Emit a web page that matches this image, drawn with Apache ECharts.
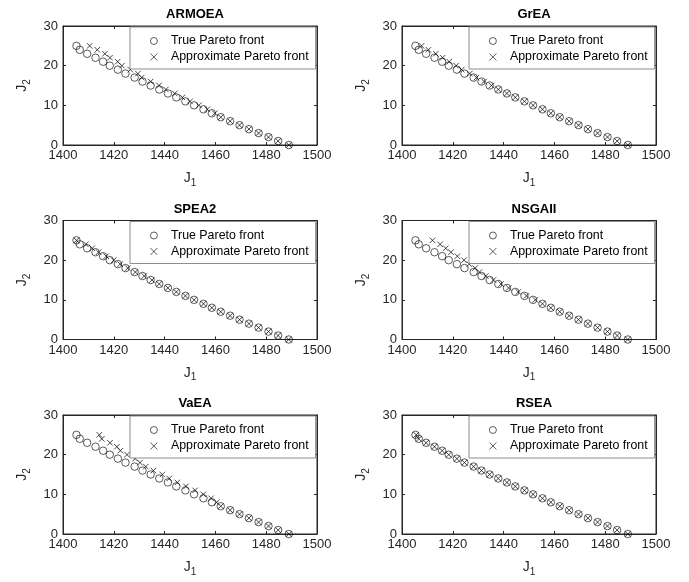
<!DOCTYPE html>
<html><head><meta charset="utf-8">
<script src="https://cdn.jsdelivr.net/npm/echarts@6/dist/echarts.min.js"></script>
<style>html,body{margin:0;padding:0;background:#fff}#c{width:689px;height:582px}</style>
</head><body><div id="c"></div>
<script>
// ---- data ----
const titles = ['ARMOEA', 'GrEA', 'SPEA2', 'NSGAII', 'VaEA', 'RSEA'];
const legendNames = ['True Pareto front', 'Approximate Pareto front'];
const j2Values = [25, 24, 23, 22, 21, 20, 19, 18, 17, 16, 15, 14, 13, 12, 11, 10, 9, 8, 7, 6, 5, 4, 3, 2, 1, 0];
const trueJ1 = [1405.3, 1406.6, 1409.5, 1412.8, 1415.8, 1418.4, 1421.6, 1424.6, 1428.2, 1431.3, 1434.5, 1437.9, 1441.3, 1444.6, 1448.2, 1451.6, 1455.3, 1458.6, 1462.1, 1465.8, 1469.5, 1473.2, 1477.0, 1480.9, 1484.7, 1488.9];
const armoeaJ1 = [1410.5, 1413.5, 1416.5, 1418.5, 1421.5, 1423.2, 1426.5, 1429.5, 1431.0, 1434.5, 1437.8, 1440.5, 1444.0, 1447.0, 1450.0, 1453.5, 1456.8, 1459.8, 1462.1, 1465.8, 1469.5, 1473.2, 1477.0, 1480.9, 1484.7, 1488.9];
const greaJ1 = [1407.7, 1410.4, 1413.3, 1416.0, 1418.6, 1421.3, 1423.5, 1426.7, 1429.3, 1432.3, 1435.2, 1437.9, 1441.3, 1444.6, 1448.2, 1451.6, 1455.3, 1458.6, 1462.1, 1465.8, 1469.5, 1473.2, 1477.0, 1480.9, 1484.7, 1488.9];
const spea2J1 = [1405.3, 1409.0, 1411.5, 1414.0, 1417.0, 1420.0, 1422.5, 1425.5, 1428.5, 1432.0, 1435.0, 1437.9, 1441.3, 1444.6, 1448.2, 1451.6, 1455.3, 1458.6, 1462.1, 1465.8, 1469.5, 1473.2, 1477.0, 1480.9, 1484.7, 1488.9];
const nsgaiiJ1 = [1412.0, 1415.0, 1417.2, 1419.3, 1421.8, 1424.4, 1426.5, 1428.8, 1430.5, 1433.0, 1436.0, 1439.0, 1442.0, 1445.8, 1449.0, 1452.5, 1455.3, 1458.6, 1462.1, 1465.8, 1469.5, 1473.2, 1477.0, 1480.9, 1484.7, 1488.9];
const vaeaJ1 = [1414.3, 1415.3, 1418.5, 1421.2, 1422.6, 1425.2, 1428.4, 1430.3, 1432.6, 1435.6, 1439.1, 1441.8, 1445.0, 1448.4, 1452.0, 1455.2, 1458.3, 1460.5, 1462.1, 1465.8, 1469.5, 1473.2, 1477.0, 1480.9, 1484.7, 1488.9];
const rseaJ1 = [1405.6, 1406.6, 1409.5, 1412.8, 1415.8, 1418.4, 1421.6, 1424.6, 1428.2, 1431.3, 1434.5, 1437.9, 1441.3, 1444.6, 1448.2, 1451.6, 1455.3, 1458.6, 1462.1, 1465.8, 1469.5, 1473.2, 1477.0, 1480.9, 1484.7, 1488.9];
const approxJ1 = [armoeaJ1, greaJ1, spea2J1, nsgaiiJ1, vaeaJ1, rseaJ1];
const xMin = 1400, xMax = 1500, xStep = 20;
const yMin = 0, yMax = 30, yStep = 10;

// ---- layout / style ----
const FONT = '"Liberation Sans", Arial, Helvetica, sans-serif';
const AX = '#262626';
const lefts = [63, 402];
const tops = [26, 220.5, 415];
const W = 254, H = 119;

const grid = [], xAxis = [], yAxis = [], series = [], title = [], legend = [];
const crossPath = 'path://M0,0L10,10M10,0L0,10';

function nameRich() {
  return {
    color: AX,
    rich: {
      j: { fontSize: 14, fontFamily: FONT, color: AX },
      s: { fontSize: 10, fontFamily: FONT, color: AX, padding: [9, 0, 0, 0] }
    }
  };
}
const plainNum = v => String(v);

titles.forEach((t, i) => {
  const col = i % 2, row = Math.floor(i / 2);
  const L = lefts[col], T = tops[row];
  grid.push({ left: L, top: T, width: W, height: H, show: true, borderColor: AX, borderWidth: 1, backgroundColor: 'transparent', containLabel: false });
  const common = {
    gridIndex: i, type: 'value',
    splitLine: { show: false },
    axisLine: { show: true, onZero: false, lineStyle: { color: AX, width: 1 } },
    axisTick: { show: true, inside: true, length: 3, lineStyle: { color: AX, width: 1 } }
  };
  xAxis.push(Object.assign({}, common, {
    position: 'bottom', min: xMin, max: xMax, interval: xStep,
    axisLabel: { color: AX, fontSize: 13, fontFamily: FONT, margin: 4, formatter: plainNum },
    name: '{j|J}{s|1}', nameLocation: 'middle', nameGap: 24, nameTextStyle: nameRich()
  }));
  xAxis.push(Object.assign({}, common, {
    position: 'top', min: xMin, max: xMax, interval: xStep, axisLabel: { show: false }
  }));
  yAxis.push(Object.assign({}, common, {
    position: 'left', min: yMin, max: yMax, interval: yStep,
    axisLabel: { color: AX, fontSize: 13, fontFamily: FONT, margin: 5, formatter: plainNum },
    name: '{j|J}{s|2}', nameLocation: 'middle', nameGap: 31, nameTextStyle: nameRich()
  }));
  yAxis.push(Object.assign({}, common, {
    position: 'right', min: yMin, max: yMax, interval: yStep, axisLabel: { show: false }
  }));
  title.push({
    text: t, left: L + W / 2, top: T - 23, textAlign: 'center',
    textStyle: { fontSize: 13, fontWeight: 'bold', color: '#000', fontFamily: FONT }
  });
  legend.push({
    orient: 'vertical', left: L + 67, top: T + 1,
    data: legendNames.slice(),
    backgroundColor: '#fff', borderColor: '#8c8c8c', borderWidth: 1, borderRadius: 0,
    padding: [7, 7, 5, 20], itemGap: 2, itemWidth: 24, itemHeight: 7,
    selectedMode: false,
    itemStyle: { borderWidth: 0.8 },
    textStyle: { fontSize: 12.4, fontFamily: FONT, color: '#000', lineHeight: 14 }
  });
  series.push({
    type: 'scatter', name: legendNames[0], xAxisIndex: 2 * i, yAxisIndex: 2 * i,
    symbol: 'circle', symbolSize: 7.5,
    itemStyle: { color: 'transparent', borderColor: '#000', borderWidth: 0.8 },
    data: trueJ1.map((x, k) => [x, j2Values[k]]),
    animation: false
  });
  series.push({
    type: 'scatter', name: legendNames[1], xAxisIndex: 2 * i, yAxisIndex: 2 * i,
    symbol: crossPath, symbolSize: 5.5,
    itemStyle: { color: 'transparent', borderColor: '#000', borderWidth: 0.9 },
    data: approxJ1[i].map((x, k) => [x, j2Values[k]]),
    animation: false
  });
});

const chart = echarts.init(document.getElementById('c'), null, { renderer: 'canvas' });
chart.setOption({
  backgroundColor: '#fff',
  animation: false,
  grid, xAxis, yAxis, series, title, legend
});
</script>
</body></html>
